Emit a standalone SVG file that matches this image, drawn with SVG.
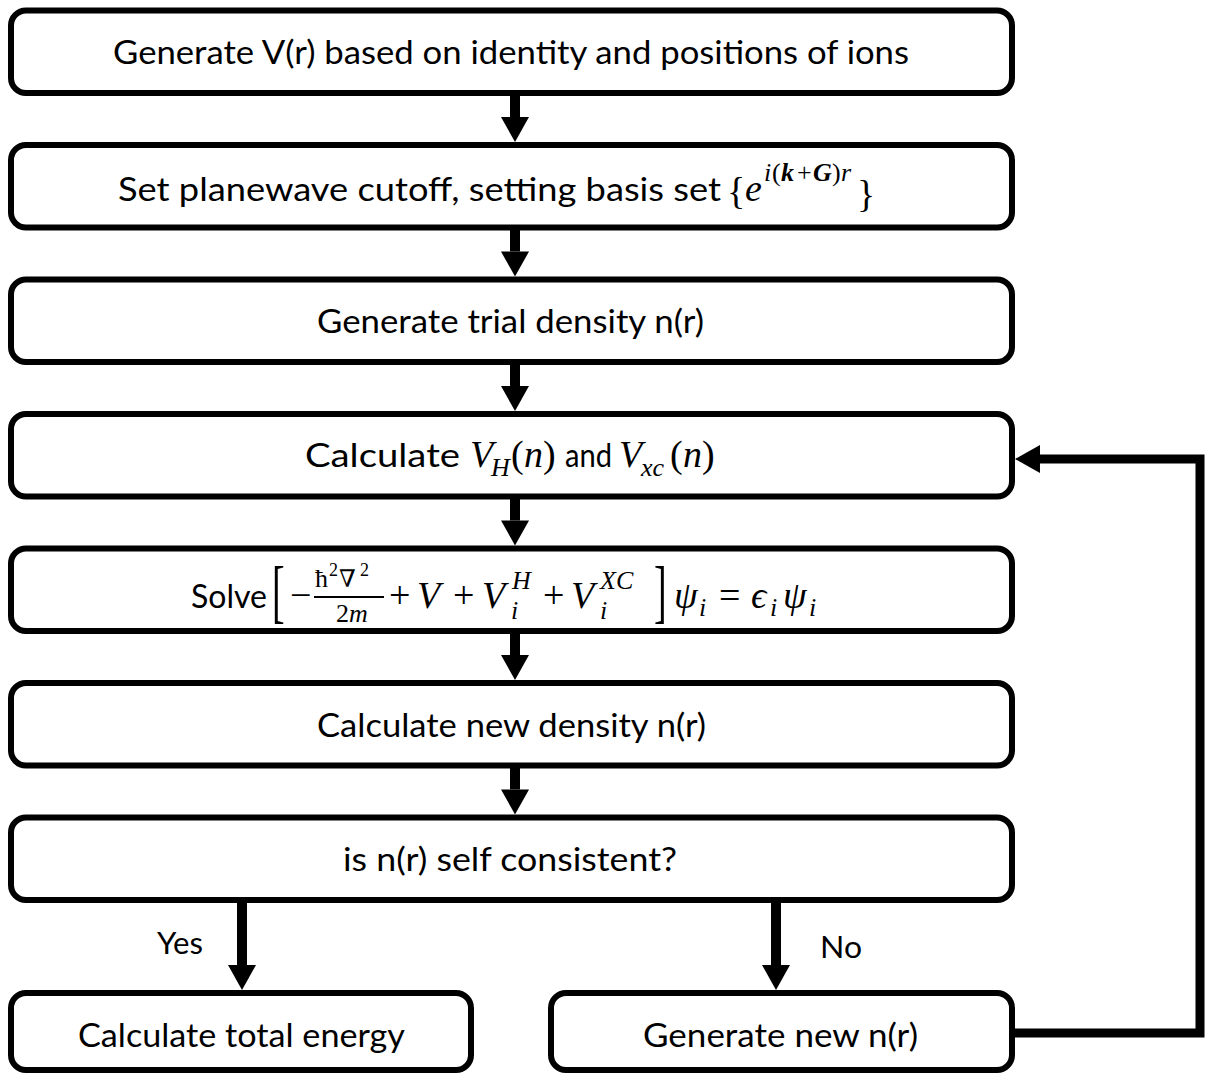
<svg xmlns="http://www.w3.org/2000/svg" width="1206" height="1074" viewBox="0 0 1206 1074">
<style>
.box{fill:#fff;stroke:#000;stroke-width:6}
.t{font-family:Lato,"Liberation Sans",sans-serif;font-size:32px;fill:#000}
.lbl{font-family:Lato,"Liberation Sans",sans-serif;font-size:30px;fill:#000}
.m{font-family:"Liberation Serif","DejaVu Serif",serif;font-style:italic;font-size:38px;fill:#000}
.mu{font-family:"Liberation Serif","DejaVu Serif",serif;font-style:normal;font-size:38px;fill:#000}
.s{font-size:26px}
.ss{font-size:18px}
.b{font-weight:bold}
.nab{font-family:"DejaVu Serif",serif;font-style:normal;font-size:24px}
.arr{fill:none;stroke:#000;stroke-width:10;stroke-linejoin:miter}
</style>
<defs>
<marker id="ah" markerUnits="userSpaceOnUse" markerWidth="26" markerHeight="28" refX="0" refY="14" orient="auto" overflow="visible">
<path d="M0,0 L25,14 L0,28 Z" fill="#000"/>
</marker>
</defs>
<g id="connectors">
<line class="arr" x1="515" y1="95" x2="515" y2="117" marker-end="url(#ah)"/>
<line class="arr" x1="515" y1="230" x2="515" y2="251.5" marker-end="url(#ah)"/>
<line class="arr" x1="515" y1="364" x2="515" y2="386" marker-end="url(#ah)"/>
<line class="arr" x1="515" y1="499" x2="515" y2="520.5" marker-end="url(#ah)"/>
<line class="arr" x1="515" y1="633" x2="515" y2="655" marker-end="url(#ah)"/>
<line class="arr" x1="515" y1="768" x2="515" y2="789.5" marker-end="url(#ah)"/>
<line class="arr" x1="242" y1="902" x2="242" y2="965" marker-end="url(#ah)"/>
<line class="arr" x1="776" y1="902" x2="776" y2="965" marker-end="url(#ah)"/>
<polyline class="arr" style="stroke-width:9" points="1014,1033 1200,1033 1200,459 1040,459" marker-end="url(#ah)"/>
<text class="lbl" x="157" y="954" textLength="46" lengthAdjust="spacingAndGlyphs">Yes</text>
<text class="lbl" x="820" y="958" textLength="42" lengthAdjust="spacingAndGlyphs">No</text>
</g>
<g id="n1">
<rect class="box" x="11" y="10.5" width="1001" height="82.5" rx="15"/>
<text class="t" x="113" y="64" textLength="796" lengthAdjust="spacingAndGlyphs">Generate V(r) based on identity and positions of ions</text>
</g>
<g id="n2">
<rect class="box" x="11" y="145" width="1001" height="82.5" rx="15"/>
<text class="t" x="118" y="201" textLength="603" lengthAdjust="spacingAndGlyphs">Set planewave cutoff, setting basis set</text>
<text class="mu" y="201"><tspan x="727" y="204">{</tspan><tspan class="m" x="745" y="201">e</tspan><tspan class="m s" x="764" y="181">i</tspan><tspan class="mu s" x="772" y="181">(</tspan><tspan class="m s b" x="781" y="181">k</tspan><tspan class="mu s" x="797" y="181">+</tspan><tspan class="m s b" x="813" y="181">G</tspan><tspan class="mu s" x="832" y="181">)</tspan><tspan class="m s" x="841" y="181">r</tspan><tspan x="857" y="207">}</tspan></text>
</g>
<g id="n3">
<rect class="box" x="11" y="279.5" width="1001" height="82.5" rx="15"/>
<text class="t" x="317" y="333" textLength="387" lengthAdjust="spacingAndGlyphs">Generate trial density n(r)</text>
</g>
<g id="n4">
<rect class="box" x="11" y="414" width="1001" height="82.5" rx="15"/>
<text class="t" x="305" y="467" textLength="155" lengthAdjust="spacingAndGlyphs">Calculate</text>
<text class="m" y="467"><tspan x="470" y="467">V</tspan><tspan class="s" x="491" y="476">H</tspan><tspan class="mu" x="511" y="467">(</tspan><tspan x="524" y="467">n</tspan><tspan class="mu" x="543" y="467">)</tspan></text>
<text class="t" x="565" y="467" textLength="47" lengthAdjust="spacingAndGlyphs">and</text>
<text class="m" y="467"><tspan x="619" y="467">V</tspan><tspan class="s" x="641" y="476">xc</tspan><tspan class="mu" x="670" y="467">(</tspan><tspan x="683" y="467">n</tspan><tspan class="mu" x="702" y="467">)</tspan></text>
</g>
<g id="n5">
<rect class="box" x="11" y="548.5" width="1001" height="82.5" rx="15"/>
<text class="t" x="191" y="608" textLength="76" lengthAdjust="spacingAndGlyphs">Solve</text>
<text class="mu" font-size="38" transform="translate(272,615) scale(1,1.85)" x="0" y="0">[</text>
<text class="mu" font-size="38" transform="translate(654,615) scale(1,1.85)" x="0" y="0">]</text>
<rect x="314" y="596" width="70" height="2" fill="#000"/>
<text class="mu" y="608"><tspan x="290" y="608">−</tspan><tspan class="s" x="315" y="587">ħ</tspan><tspan class="ss" x="329" y="576">2</tspan><tspan class="nab" x="339" y="587">∇</tspan><tspan class="ss" x="360" y="576">2</tspan><tspan class="s" x="336" y="622">2</tspan><tspan class="m s" x="349" y="622">m</tspan><tspan x="389" y="608">+</tspan><tspan class="m" x="417" y="608">V</tspan><tspan x="453" y="608">+</tspan><tspan class="m" x="482" y="608">V</tspan><tspan class="m s" x="512" y="589">H</tspan><tspan class="m s" x="511" y="619">i</tspan><tspan x="543" y="608">+</tspan><tspan class="m" x="571" y="608">V</tspan><tspan class="m s" x="600" y="589">XC</tspan><tspan class="m s" x="600" y="619">i</tspan><tspan class="m" x="674" y="608">ψ</tspan><tspan class="m s" x="699" y="616">i</tspan><tspan x="719" y="608">=</tspan><tspan class="m" x="751" y="608">ϵ</tspan><tspan class="m s" x="770" y="616">i</tspan><tspan class="m" x="783" y="608">ψ</tspan><tspan class="m s" x="809" y="616">i</tspan></text>
</g>
<g id="n6">
<rect class="box" x="11" y="683" width="1001" height="82.5" rx="15"/>
<text class="t" x="317" y="737" textLength="389" lengthAdjust="spacingAndGlyphs">Calculate new density n(r)</text>
</g>
<g id="n7">
<rect class="box" x="11" y="817.5" width="1001" height="82.5" rx="15"/>
<text class="t" x="343" y="871" textLength="334" lengthAdjust="spacingAndGlyphs">is n(r) self consistent?</text>
</g>
<g id="n8">
<rect class="box" x="11" y="993" width="460" height="77" rx="15"/>
<text class="t" x="78" y="1047" textLength="327" lengthAdjust="spacingAndGlyphs">Calculate total energy</text>
</g>
<g id="n9">
<rect class="box" x="551" y="993" width="461" height="77" rx="15"/>
<text class="t" x="643" y="1047" textLength="275" lengthAdjust="spacingAndGlyphs">Generate new n(r)</text>
</g>
</svg>
